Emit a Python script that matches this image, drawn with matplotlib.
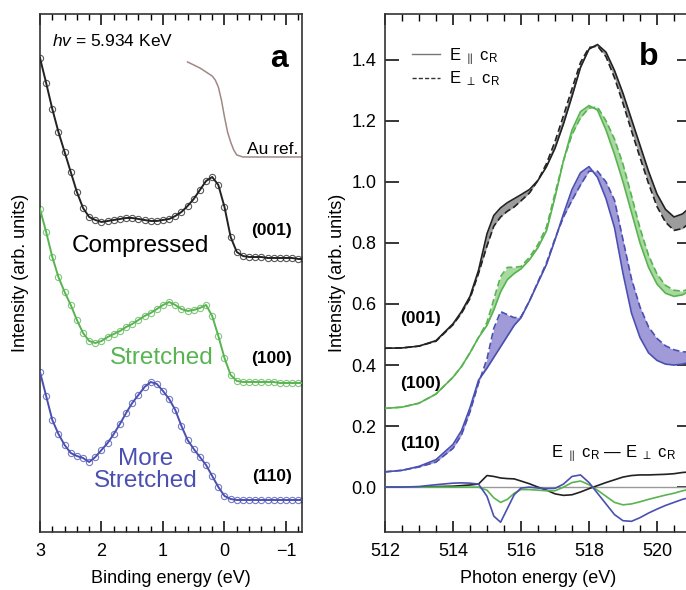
import numpy as np
import matplotlib
matplotlib.use("Agg")
import matplotlib.pyplot as plt
from matplotlib.lines import Line2D
from matplotlib.ticker import MultipleLocator

plt.rcParams['font.family'] = ['Liberation Sans', 'DejaVu Sans']
plt.rcParams['mathtext.fontset'] = 'custom'
plt.rcParams['mathtext.rm'] = 'Liberation Sans'
plt.rcParams['mathtext.it'] = 'Liberation Sans:italic'

# ---------------- panel a: HAXPES valence band ----------------
be = [3.0, 2.9, 2.8, 2.7, 2.6, 2.5, 2.4, 2.3, 2.2, 2.1, 2.0, 1.9, 1.8, 1.7, 1.6,
      1.5, 1.4, 1.3, 1.2, 1.1, 1.0, 0.9, 0.8, 0.7, 0.6, 0.5, 0.4, 0.3, 0.2, 0.1,
      0.0, -0.1, -0.2, -0.3, -0.4, -0.5, -0.6, -0.7, -0.8, -0.9, -1.0, -1.1, -1.2, -1.3]
vb_001 = [4.74, 4.49, 4.23, 4.00, 3.80, 3.60, 3.40, 3.24, 3.15, 3.12, 3.10, 3.11, 3.12,
          3.13, 3.14, 3.14, 3.13, 3.12, 3.11, 3.11, 3.12, 3.13, 3.16, 3.20, 3.26, 3.33,
          3.42, 3.51, 3.55, 3.47, 3.25, 2.95, 2.80, 2.76, 2.75, 2.75, 2.75, 2.74, 2.74,
          2.74, 2.74, 2.74, 2.73, 2.73]
vb_100 = [3.23, 3.00, 2.75, 2.55, 2.40, 2.27, 2.12, 1.99, 1.91, 1.89, 1.91, 1.95, 1.98,
          2.01, 2.05, 2.08, 2.12, 2.16, 2.19, 2.23, 2.27, 2.30, 2.27, 2.23, 2.21, 2.22,
          2.24, 2.27, 2.16, 1.96, 1.74, 1.57, 1.51, 1.50, 1.50, 1.50, 1.50, 1.50, 1.50,
          1.49, 1.49, 1.49, 1.49, 1.49]
vb_110 = [1.60, 1.36, 1.12, 0.98, 0.87, 0.79, 0.76, 0.74, 0.70, 0.75, 0.82, 0.89, 0.98,
          1.08, 1.19, 1.29, 1.37, 1.45, 1.50, 1.48, 1.41, 1.33, 1.22, 1.06, 0.92, 0.83,
          0.75, 0.67, 0.56, 0.45, 0.36, 0.33, 0.32, 0.32, 0.32, 0.32, 0.32, 0.32, 0.32,
          0.32, 0.32, 0.32, 0.32, 0.32]
be_au = [0.6, 0.4, 0.3, 0.2, 0.15, 0.1, 0.05, 0.0, -0.05, -0.1, -0.15, -0.2, -0.3, -0.5, -1.3]
au_ref = [4.70, 4.64, 4.60, 4.56, 4.52, 4.45, 4.32, 4.15, 4.00, 3.90, 3.82, 3.77, 3.75, 3.75, 3.75]

# ---------------- panel b: XAS O K-edge ----------------
ev = [512, 512.5, 513, 513.5, 514, 514.25, 514.5, 514.75, 515, 515.2, 515.4, 515.6,
      515.8, 516, 516.25, 516.5, 516.75, 517, 517.25, 517.5, 517.75, 518, 518.25,
      518.5, 518.75, 519, 519.25, 519.5, 519.75, 520, 520.25, 520.5, 520.75, 521]
par_001 = [0.455, 0.456, 0.462, 0.48, 0.535, 0.575, 0.625, 0.71, 0.83, 0.89, 0.915, 0.932,
           0.945, 0.958, 0.975, 1.005, 1.05, 1.11, 1.19, 1.28, 1.375, 1.435, 1.45, 1.425,
           1.365, 1.29, 1.205, 1.12, 1.035, 0.96, 0.91, 0.885, 0.895, 0.92]
perp_001 = [0.455, 0.456, 0.462, 0.478, 0.532, 0.57, 0.618, 0.70, 0.79, 0.855, 0.885, 0.904,
            0.918, 0.938, 0.964, 1.005, 1.06, 1.132, 1.217, 1.305, 1.391, 1.44, 1.445, 1.41,
            1.341, 1.257, 1.167, 1.08, 0.995, 0.919, 0.868, 0.841, 0.847, 0.87]
par_100 = [0.258, 0.262, 0.275, 0.305, 0.36, 0.395, 0.44, 0.49, 0.53, 0.58, 0.64, 0.68,
           0.70, 0.715, 0.745, 0.785, 0.84, 0.95, 1.07, 1.17, 1.23, 1.25, 1.235, 1.17,
           1.09, 1.0, 0.9, 0.80, 0.72, 0.665, 0.635, 0.625, 0.63, 0.645]
perp_100 = [0.258, 0.262, 0.275, 0.305, 0.36, 0.395, 0.44, 0.49, 0.54, 0.615, 0.69, 0.72,
            0.72, 0.723, 0.753, 0.795, 0.852, 0.962, 1.07, 1.155, 1.21, 1.242, 1.245, 1.20,
            1.14, 1.058, 0.955, 0.848, 0.76, 0.698, 0.661, 0.645, 0.642, 0.651]
par_110 = [0.05, 0.055, 0.068, 0.09, 0.14, 0.185, 0.26, 0.35, 0.39, 0.425, 0.46, 0.495,
           0.53, 0.555, 0.61, 0.67, 0.73, 0.81, 0.895, 0.975, 1.03, 1.05, 1.015, 0.945,
           0.85, 0.70, 0.57, 0.49, 0.44, 0.415, 0.403, 0.40, 0.403, 0.41]
perp_110 = [0.05, 0.055, 0.066, 0.082, 0.127, 0.171, 0.247, 0.34, 0.42, 0.52, 0.575, 0.565,
            0.555, 0.558, 0.61, 0.673, 0.735, 0.814, 0.885, 0.94, 0.99, 1.035, 1.035, 1.0,
            0.94, 0.81, 0.682, 0.59, 0.525, 0.487, 0.463, 0.45, 0.443, 0.443]
diff_001 = [0, 0, 0, 0.002, 0.003, 0.005, 0.007, 0.01, 0.038, 0.035, 0.03, 0.028, 0.027,
            0.02, 0.011, 0.0, -0.01, -0.022, -0.027, -0.025, -0.016, -0.005, 0.005, 0.015,
            0.024, 0.033, 0.038, 0.04, 0.04, 0.041, 0.042, 0.044, 0.048, 0.05]
diff_100 = [0, 0, 0, 0, 0, 0, 0, 0, -0.01, -0.035, -0.05, -0.04, -0.02, -0.008, -0.008,
            -0.01, -0.012, -0.012, 0.0, 0.015, 0.02, 0.008, -0.01, -0.03, -0.05, -0.058,
            -0.055, -0.048, -0.04, -0.033, -0.026, -0.02, -0.012, -0.006]
diff_110 = [0, 0, 0.002, 0.008, 0.013, 0.014, 0.013, 0.01, -0.03, -0.095, -0.115, -0.07,
            -0.025, -0.003, 0.0, -0.003, -0.005, -0.004, 0.01, 0.035, 0.04, 0.015, -0.02,
            -0.055, -0.09, -0.11, -0.112, -0.1, -0.085, -0.072, -0.06, -0.05, -0.04, -0.033]

black, green, blue = '#222222', '#58b450', '#4a4fb2'
fills = {'001': '#9c9c9c', '100': '#a8d9a0', '110': '#a09bd8'}
par_lab = r'E $_{\parallel}$ c$_{\rm R}$'
perp_lab = r'E $_{\perp}$ c$_{\rm R}$'

fig = plt.figure(figsize=(6.86, 5.90), dpi=100)
axa = fig.add_axes([0.0583, 0.0983, 0.3819, 0.878])
axb = fig.add_axes([0.5612, 0.0983, 0.4461, 0.878])

# ---- panel a ----
for y, c in [(vb_001, black), (vb_100, green), (vb_110, blue)]:
    axa.plot(be, y, color=c, lw=1.4, zorder=3)
    axa.plot(be, y, 'o', mfc='none', mec=c, ms=4.5, mew=0.8, alpha=0.75, zorder=2)
axa.plot(be_au, au_ref, color='#a08886', lw=1.1)

axa.set_xlim(3.0, -1.26)
axa.set_ylim(0, 5.18)
axa.xaxis.set_major_locator(MultipleLocator(1))
axa.xaxis.set_minor_locator(MultipleLocator(0.2))
axa.set_yticks([])
axa.tick_params(axis='x', which='both', direction='in', top=True, labelsize=13, pad=8)
axa.tick_params(axis='x', which='major', length=8, width=1.1)
axa.tick_params(axis='x', which='minor', length=4, width=1.0)
axa.set_xlabel('Binding energy (eV)', fontsize=13, labelpad=7)
axa.set_ylabel('Intensity (arb. units)', fontsize=13, labelpad=8)

axa.text(2.8, 4.91, r'$\mathit{hv}$ = 5.934 KeV', fontsize=12.5, va='center')
axa.text(-0.88, 4.73, 'a', fontsize=23, fontweight='bold', ha='center', va='center')
axa.text(-1.2, 3.82, 'Au ref.', fontsize=12.5, ha='right', va='center')
axa.text(1.36, 2.86, 'Compressed', fontsize=17.5, ha='center', va='center', color='black')
axa.text(1.02, 1.74, 'Stretched', fontsize=17.5, ha='center', va='center', color=green)
axa.text(1.28, 0.62, 'More\nStretched', fontsize=17.5, ha='center', va='center',
         color=blue, linespacing=0.95)
for lab, yv in [('(001)', 3.01), ('(100)', 1.73), ('(110)', 0.56)]:
    axa.text(-0.77, yv, lab, fontsize=12.5, fontweight='bold', ha='center', va='center')

# ---- panel b ----
for p, q, d, c, key in [(par_001, perp_001, diff_001, black, '001'),
                        (par_100, perp_100, diff_100, green, '100'),
                        (par_110, perp_110, diff_110, blue, '110')]:
    axb.fill_between(ev, p, q, color=fills[key], lw=0, zorder=1)
    axb.plot(ev, p, color=c, lw=1.2, zorder=3)
    axb.plot(ev, q, color=c, lw=1.2, ls=(0, (4, 2)), zorder=3)
    axb.plot(ev, d, color=c, lw=1.2, zorder=3)
axb.axhline(0, color='#999999', lw=1.0, zorder=2)

axb.set_xlim(512, 521)
axb.set_ylim(-0.147, 1.55)
axb.set_xticks([512, 514, 516, 518, 520], labels=['512', '514', '516', '518', '520'])
axb.set_xticks([512.5, 513, 513.5, 514.5, 515, 515.5, 516.5, 517, 517.5, 518.5,
                519, 519.5, 520.5, 521], minor=True)
axb.set_yticks([0.0, 0.2, 0.4, 0.6, 0.8, 1.0, 1.2, 1.4])
axb.tick_params(axis='both', which='both', direction='in', top=True, right=True, labelsize=13)
axb.tick_params(axis='x', which='major', length=8, width=1.1, pad=8)
axb.tick_params(axis='x', which='minor', length=5, width=1.0, pad=8)
axb.tick_params(axis='y', which='major', length=10, width=1.1, pad=6)
axb.set_xlabel('Photon energy (eV)', fontsize=13, labelpad=7)
axb.set_ylabel('Intensity (arb. units)', fontsize=13, labelpad=4)

handles = [Line2D([], [], color='#777777', lw=1.0),
           Line2D([], [], color='#333333', lw=1.0, ls=(0, (3, 1.5)))]
axb.legend(handles, [par_lab, perp_lab],
           loc='upper left', bbox_to_anchor=(0.05, 0.96), frameon=False, fontsize=12,
           handlelength=1.7, handletextpad=0.5, labelspacing=0.15, borderpad=0.2)
axb.text(519.76, 1.41, 'b', fontsize=23, fontweight='bold', ha='center', va='center')
for lab, yv in [('(001)', 0.554), ('(100)', 0.341), ('(110)', 0.144)]:
    axb.text(512.44, yv, lab, fontsize=12.5, fontweight='bold', ha='left', va='center')
axb.text(518.73, 0.11, par_lab + ' — ' + perp_lab, fontsize=12, ha='center', va='center')

for ax in (axa, axb):
    for s in ax.spines.values():
        s.set_linewidth(1.2)
        s.set_color('#333333')

fig.savefig('out.png', dpi=100)
